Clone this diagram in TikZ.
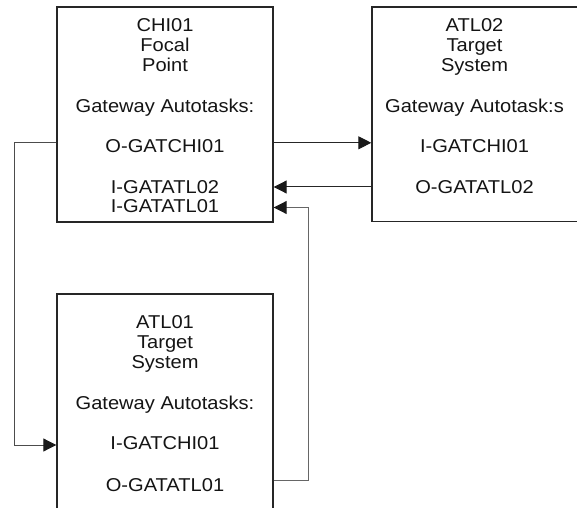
\documentclass[tikz,border=0pt]{standalone}
\usepackage{fontspec}
\setmainfont{Liberation Sans}[FakeStretch=1.08]
\usetikzlibrary{arrows.meta}
\begin{document}
\begin{tikzpicture}[x=1bp,y=-1bp,
  sysbox/.style={draw=black!85, line width=1.4bp, rectangle, inner sep=0pt},
  lbl/.style={anchor=base, inner sep=0pt, text=black!92,
    font=\fontsize{18.6bp}{20bp}\selectfont},
  link/.style={draw=black!85, line width=1bp,
    -{Triangle[length=13bp,width=13bp,fill=black!90,color=black!90]}},
  softlink/.style={link, draw=black!60}]
  \useasboundingbox (0,0) rectangle (577,508);
  \clip (0,0) rectangle (577,508);

  % the three systems
  \node[sysbox, minimum width=216bp, minimum height=215bp] (chi) at (165,114.5) {};
  \node[sysbox, minimum width=208bp, minimum height=214.5bp] (atl2) at (476,114.25) {};
  \node[sysbox, minimum width=216bp, minimum height=226bp] (atl1) at (165,407) {};

  % CHI01 focal point
  \node[lbl] (c1) at (165,31.5) {CHI01};
  \node[lbl] (c2) at (165,51.5) {Focal};
  \node[lbl] (c3) at (165,71.5) {Point};
  \node[lbl] (c4) at (165,112.5) {Gateway Autotasks:};
  \node[lbl] (c5) at (165,153) {O-GATCHI01};
  \node[lbl] (c6) at (165,193.5) {I-GATATL02};
  \node[lbl] (c7) at (165,212.5) {I-GATATL01};

  % ATL02 target system
  \node[lbl] (b1) at (474.5,31.5) {ATL02};
  \node[lbl] (b2) at (474.5,51.5) {Target};
  \node[lbl] (b3) at (474.5,71.5) {System};
  \node[lbl] (b4) at (474.5,112.5) {Gateway Autotask:s};
  \node[lbl] (b5) at (474.5,153) {I-GATCHI01};
  \node[lbl] (b6) at (474.5,193.5) {O-GATATL02};

  % ATL01 target system
  \node[lbl] (a1) at (165,328) {ATL01};
  \node[lbl] (a2) at (165,348) {Target};
  \node[lbl] (a3) at (165,368.5) {System};
  \node[lbl] (a4) at (165,409) {Gateway Autotasks:};
  \node[lbl] (a5) at (165,449.5) {I-GATCHI01};
  \node[lbl] (a6) at (165,491) {O-GATATL01};

  % port heights and routing columns
  \coordinate (outchi) at (0,142.8);
  \coordinate (in2) at (0,187);
  \coordinate (in1) at (0,207.5);
  \coordinate (inatl1) at (0,445);
  \coordinate (out1) at (0,480.7);
  \coordinate (leftrun) at (14,0);
  \coordinate (rightrun) at (308,0);

  % sessions between the gateways
  \draw[link, draw=black!70] (chi.west |- outchi) -- (leftrun |- outchi) -- (leftrun |- inatl1) -- (atl1.west |- inatl1);
  \draw[link] (chi.east |- outchi) -- (atl2.west |- outchi);
  \draw[link] (atl2.west |- in2) -- (chi.east |- in2);
  \draw[softlink] (atl1.east |- out1) -- (rightrun |- out1) -- (rightrun |- in1) -- (chi.east |- in1);
\end{tikzpicture}
\end{document}
